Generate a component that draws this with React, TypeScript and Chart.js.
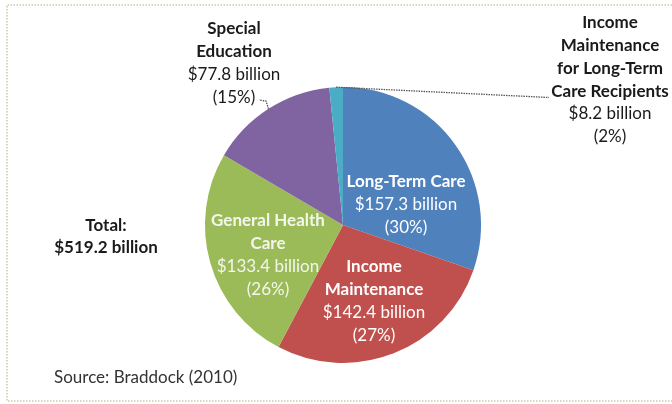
import React, { useEffect, useRef } from "react";
import { Chart, registerables } from "chart.js";

Chart.register(...registerables);

// ---- data ----
const categories = [
  "Long-Term Care",
  "Income Maintenance",
  "General Health Care",
  "Special Education",
  "Income Maintenance for Long-Term Care Recipients",
];
const valuesBillion = [157.3, 142.4, 133.4, 77.8, 8.2];
const percentLabels = ["30%", "27%", "26%", "15%", "2%"];
const nameLines = [
  ["Long-Term Care"],
  ["Income", "Maintenance"],
  ["General Health", "Care"],
  ["Special", "Education"],
  ["Income", "Maintenance", "for Long-Term", "Care Recipients"],
];
const sliceColors = ["#4F81BD", "#C0504D", "#9BBB59", "#8064A2", "#4BACC6"];
const totalLines = ["Total:", "$519.2 billion"];
const sourceText = "Source: Braddock (2010)";

// ---- layout (positions of annotation text only) ----
const FONT = "Lato, 'Open Sans', sans-serif";
const FS = 17;
const LH = 22.7;
const labelAnchors = [
  { x: 406, y: 182, color: "#ffffff" },
  { x: 374, y: 267, color: "#ffffff" },
  { x: 268, y: 221, color: "#f4f6ee" },
  { x: 234, y: 29, color: "#1a1a1a" },
  { x: 610, y: 23, color: "#1a1a1a" },
];
const leaderEnds: Record<number, { x: number; y: number; via?: { x: number; y: number } }> = {
  3: { x: 259, y: 100, via: { x: 266, y: 101 } },
  4: { x: 549, y: 97.5 },
};

const annotPlugin = {
  id: "annot",
  afterDraw(chart: any) {
    const ctx = chart.ctx as CanvasRenderingContext2D;
    const W = chart.width;
    const H = chart.height;
    ctx.save();
    // dotted frame
    ctx.strokeStyle = "#d3d9bd";
    ctx.lineWidth = 2;
    ctx.setLineDash([1.5, 1.5]);
    ctx.beginPath();
    ctx.moveTo(W, 5);
    ctx.lineTo(7, 5);
    ctx.lineTo(7, H - 3);
    ctx.lineTo(W, H - 3);
    ctx.stroke();

    // leader lines
    const meta = chart.getDatasetMeta(0);
    ctx.strokeStyle = "#555555";
    ctx.lineWidth = 1.3;
    ctx.setLineDash([1.5, 1]);
    Object.keys(leaderEnds).forEach((k) => {
      const i = Number(k);
      const arc = meta.data[i];
      const p = arc.getProps(["x", "y", "startAngle", "endAngle", "outerRadius"], true);
      const mid = (p.startAngle + p.endAngle) / 2;
      const sx = p.x + Math.cos(mid) * p.outerRadius;
      const sy = p.y + Math.sin(mid) * p.outerRadius;
      const end = leaderEnds[i];
      ctx.beginPath();
      ctx.moveTo(sx, sy);
      if (end.via) ctx.lineTo(end.via.x, end.via.y);
      ctx.lineTo(end.x, end.y);
      ctx.stroke();
    });
    ctx.setLineDash([]);

    // slice labels
    ctx.textAlign = "center";
    ctx.textBaseline = "middle";
    categories.forEach((_, i) => {
      const a = labelAnchors[i];
      const lines = nameLines[i];
      ctx.fillStyle = a.color;
      let y = a.y;
      ctx.font = `bold ${FS}px ${FONT}`;
      lines.forEach((ln) => {
        ctx.fillText(ln, a.x, y);
        y += LH;
      });
      ctx.font = `${FS}px ${FONT}`;
      ctx.fillText(`$${valuesBillion[i]} billion`, a.x, y);
      y += LH;
      ctx.fillText(`(${percentLabels[i]})`, a.x, y);
    });

    // total
    ctx.fillStyle = "#1a1a1a";
    ctx.font = `bold ${FS}px ${FONT}`;
    ctx.fillText(totalLines[0], 106, 226);
    ctx.fillText(totalLines[1], 106, 248);

    // source
    ctx.textAlign = "left";
    ctx.fillStyle = "#333333";
    ctx.font = `${FS}px ${FONT}`;
    ctx.fillText(sourceText, 54, 378);
    ctx.restore();
  },
};

export default function App() {
  const ref = useRef<HTMLCanvasElement>(null);
  useEffect(() => {
    if (!ref.current) return;
    const chart = new Chart(ref.current, {
      type: "pie",
      data: {
        labels: categories,
        datasets: [
          {
            data: valuesBillion,
            backgroundColor: sliceColors,
            borderWidth: 0,
          },
        ],
      },
      options: {
        responsive: false,
        animation: false,
        rotation: 0,
        layout: { padding: { top: 87, bottom: 41, left: 205, right: 191 } },
        plugins: {
          legend: { display: false },
          tooltip: { enabled: false },
        },
      },
      plugins: [annotPlugin],
    });
    return () => chart.destroy();
  }, []);
  return (
    <div style={{ position: "fixed", left: 0, top: 0, width: 672, height: 404, background: "#ffffff" }}>
      <canvas ref={ref} width={672} height={404} style={{ display: "block" }} />
    </div>
  );
}
